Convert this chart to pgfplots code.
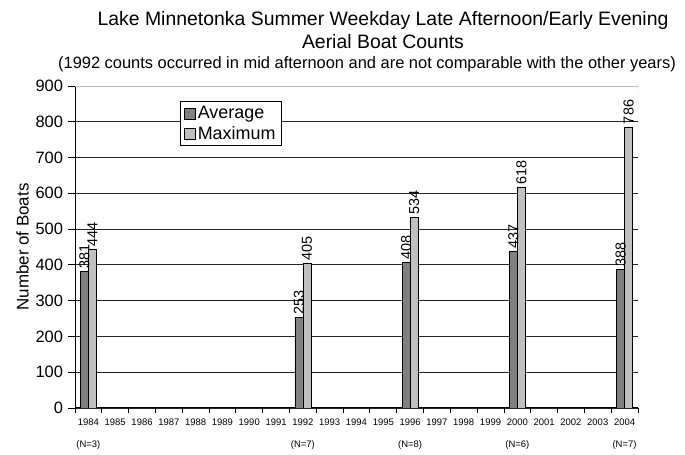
\documentclass[border=0pt]{standalone}
\usepackage{fontspec}
\setmainfont{Liberation Sans}
\usepackage{pgfplots}
\pgfplotsset{compat=1.18, /pgf/number format/assume math mode=true}
\definecolor{avgc}{HTML}{808080}
\definecolor{maxc}{HTML}{C0C0C0}
\begin{document}
\begin{tikzpicture}[x=1bp,y=1bp]
\useasboundingbox (0,0) rectangle (685,455);
\node[font=\fontsize{19.5}{21}\selectfont] at (383,435) {Lake Minnetonka Summer Weekday Late Afternoon/Early Evening};
\node[font=\fontsize{19.5}{21}\selectfont] at (383,413) {Aerial Boat Counts};
\node[font=\fontsize{16.5}{18}\selectfont] at (367,391) {(1992 counts occurred in mid afternoon and are not comparable with the other years)};
\begin{axis}[
  at={(75bp,47bp)}, anchor=south west, scale only axis,
  width=563bp, height=322bp,
  ymin=0, ymax=900, ytick={0,100,...,900},
  xmin=1983.5, xmax=2004.5,
  ybar=0pt, bar width=8bp,
  axis x line*=bottom, axis y line*=left,
  axis line style={black, line width=1pt},
  tick align=outside,
  major tick length=7bp, minor tick length=5bp,
  xtick={1984,...,2004},
  major x tick style={draw=none},
  minor xtick={1983.5,1984.5,...,2004.5},
  minor x tick style={black, line width=0.8pt},
  major y tick style={black, line width=0.8pt},
  xticklabels={{1984\\(N=3)},1985,1986,1987,1988,1989,1990,1991,{1992\\(N=7)},1993,1994,1995,{1996\\(N=8)},1997,1998,1999,{2000\\(N=6)},2001,2002,2003,{2004\\(N=7)}},
  xticklabel style={align=center, font=\fontsize{9.5}{22}\selectfont, yshift=0bp},
  yticklabel style={font=\fontsize{16.5}{18}\selectfont, xshift=-1.5bp},
  ylabel={Number of Boats},
  ylabel style={font=\fontsize{17}{19}\selectfont},
  ymajorgrids, grid style={black!85, line width=0.8pt},
  nodes near coords,
  nodes near coords style={rotate=90, anchor=west, inner sep=2.5bp, font=\fontsize{14.5}{16}\selectfont, black},
  legend style={at={(0.1865,0.953)}, anchor=north west, draw=black, line width=0.6pt,
    font=\fontsize{18}{19}\selectfont, row sep=2bp, inner xsep=4bp, inner ysep=3bp},
  legend cell align=left,
  legend image code/.code={\draw[#1, line width=0.5pt] (0bp,-5.5bp) rectangle (11bp,5.5bp);},
]
\addplot[fill=avgc, draw=black, line width=0.5pt] coordinates {(1984,381) (1992,253) (1996,408) (2000,437) (2004,388)};
\addplot[fill=maxc, draw=black, line width=0.5pt] coordinates {(1984,444) (1992,405) (1996,534) (2000,618) (2004,786)};
\legend{Average, Maximum}
\draw[gray!50, line width=0.8pt] (rel axis cs:0,1) -- (rel axis cs:1,1) -- (rel axis cs:1,0);
\end{axis}
\end{tikzpicture}
\end{document}
